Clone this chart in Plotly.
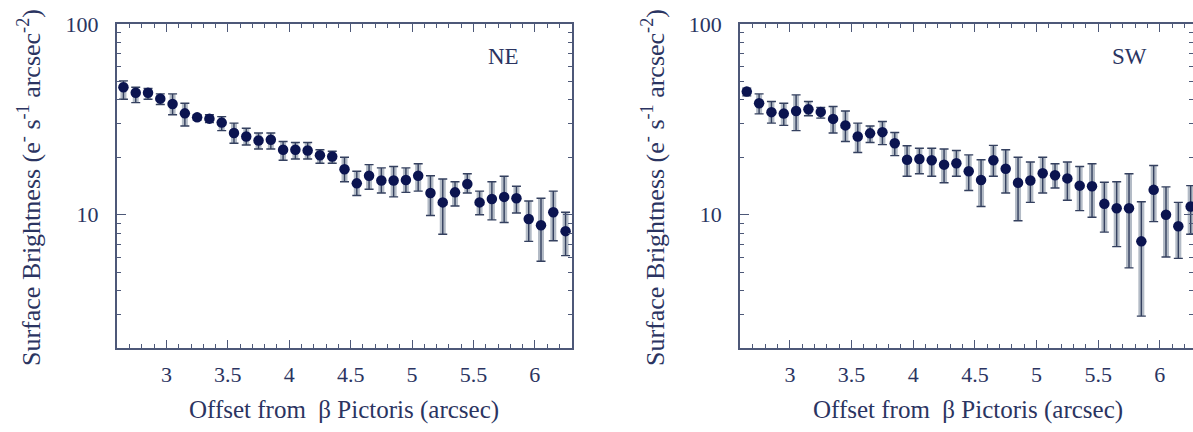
import plotly.graph_objects as go

# ---- data ----
offset = [2.65, 2.75, 2.85, 2.95, 3.05, 3.15, 3.25, 3.35, 3.45, 3.55, 3.65, 3.75, 3.85,
          3.95, 4.05, 4.15, 4.25, 4.35, 4.45, 4.55, 4.65, 4.75, 4.85, 4.95, 5.05, 5.15,
          5.25, 5.35, 5.45, 5.55, 5.65, 5.75, 5.85, 5.95, 6.05, 6.15, 6.25]

ne_val = [46.6, 43.6, 43.6, 40.6, 38.1, 34.0, 32.4, 31.9, 30.4, 26.8, 25.7, 24.5, 24.7,
          21.9, 21.9, 21.7, 20.5, 20.2, 17.3, 14.6, 16.0, 15.1, 15.1, 15.2, 16.0, 13.0,
          11.6, 13.1, 14.5, 11.6, 12.1, 12.4, 12.2, 9.5, 8.8, 10.3, 8.2]
ne_hi = [50.3, 46.6, 45.9, 43.0, 43.0, 38.4, 33.4, 33.4, 32.7, 30.2, 28.4, 26.8, 26.8,
         24.2, 23.9, 23.9, 21.9, 21.5, 20.0, 16.9, 18.3, 17.6, 17.9, 17.6, 18.5, 16.0,
         15.4, 14.9, 16.4, 13.3, 14.9, 15.9, 14.1, 11.8, 12.2, 13.3, 10.3]
ne_lo = [40.3, 38.7, 40.3, 37.8, 33.4, 29.2, 31.4, 30.4, 27.6, 23.7, 23.2, 22.1, 22.1,
         19.3, 19.6, 19.6, 18.6, 18.6, 14.9, 12.6, 13.6, 13.0, 12.4, 13.1, 13.3, 9.9,
         7.9, 11.1, 13.0, 10.0, 9.4, 9.1, 10.2, 7.25, 5.7, 7.3, 6.1]

sw_val = [44.2, 38.4, 34.5, 33.9, 35.0, 35.7, 34.6, 31.8, 29.4, 25.7, 26.7, 27.1, 23.7,
          19.4, 19.6, 19.3, 18.3, 18.6, 16.9, 15.2, 19.3, 17.4, 14.7, 15.1, 16.5, 16.1,
          15.5, 14.2, 14.1, 11.4, 10.8, 10.8, 7.25, 13.5, 10.0, 8.7, 11.05]
sw_hi = [46.1, 43.0, 39.2, 38.4, 42.5, 39.2, 36.5, 36.9, 35.0, 30.2, 29.2, 30.8, 27.0,
         23.0, 22.3, 22.3, 22.1, 21.7, 20.6, 19.4, 23.1, 21.9, 20.0, 18.9, 20.0, 18.5,
         18.9, 17.9, 18.5, 14.8, 14.9, 16.4, 11.7, 18.1, 14.0, 11.6, 14.2]
sw_lo = [42.0, 33.8, 30.2, 29.4, 27.6, 33.0, 32.1, 26.8, 24.2, 21.2, 23.9, 23.3, 20.4,
         15.9, 16.4, 15.9, 14.7, 15.9, 13.4, 11.05, 15.9, 13.0, 9.3, 11.6, 13.0, 13.8,
         11.9, 10.5, 9.7, 8.1, 6.8, 5.26, 2.94, 9.2, 6.0, 5.9, 7.9]

panels = ["NE", "SW"]
x_ticks = [3, 3.5, 4, 4.5, 5, 5.5, 6]
x_ticktext = ["3", "3.5", "4", "4.5", "5", "5.5", "6"]
y_ticks = [10, 100]
y_ticktext = ["10", "100"]
y_minor = [2, 3, 4, 5, 6, 7, 8, 9, 20, 30, 40, 50, 60, 70, 80, 90]

# ---- style ----
W, H = 1193, 432
FONT = "Liberation Serif, Times New Roman, serif"
TXT = "#2b3461"
AX = "#4d5878"
MARK = "#0b1450"
DARK_BAR = "#34405f"
GRAY_BAR = "#b3bbc6"

fig = go.Figure()

series = [(ne_val, ne_hi, ne_lo), (sw_val, sw_hi, sw_lo)]
for i, (val, hi, lo) in enumerate(series):
    xa = "x" if i == 0 else "x2"
    ya = "y" if i == 0 else "y2"
    up = [h - v for h, v in zip(hi, val)]
    dn = [v - l for v, l in zip(val, lo)]
    fig.add_trace(go.Scatter(
        x=offset, y=val, mode="markers", xaxis=xa, yaxis=ya,
        marker=dict(color="rgba(0,0,0,0)", size=1),
        error_y=dict(type="data", symmetric=False, array=up, arrayminus=dn,
                     color=GRAY_BAR, thickness=6, width=0),
        showlegend=False, hoverinfo="skip"))
    fig.add_trace(go.Scatter(
        x=offset, y=val, mode="markers", xaxis=xa, yaxis=ya,
        marker=dict(color=MARK, size=10.5, line=dict(width=0)),
        error_y=dict(type="data", symmetric=False, array=up, arrayminus=dn,
                     color=DARK_BAR, thickness=1.4, width=4.5),
        showlegend=False, name=panels[i]))

def px_x(p):
    return p / W

def px_y(p):
    return (H - p) / H

x_common = dict(
    tickmode="array", tickvals=x_ticks, ticktext=x_ticktext,
    ticks="inside", ticklen=8, tickwidth=1.3, tickcolor=AX,
    minor=dict(dtick=0.1, tick0=0, ticks="inside", ticklen=4, tickwidth=1.1, tickcolor=AX),
    showline=True, linecolor=AX, linewidth=1.6, mirror="ticks",
    showgrid=False, zeroline=False, automargin=False,
    tickfont=dict(family=FONT, size=22, color=TXT),
    ticklabelstandoff=6,
)
y_common = dict(
    type="log", range=[0.30103, 2.0],
    tickmode="array", tickvals=y_ticks, ticktext=y_ticktext,
    ticks="inside", ticklen=9, tickwidth=1.3, tickcolor=AX,
    minor=dict(tickvals=y_minor, ticks="inside", ticklen=4, tickwidth=1.1, tickcolor=AX),
    showline=True, linecolor=AX, linewidth=1.6, mirror="ticks",
    showgrid=False, zeroline=False, automargin=False,
    tickfont=dict(family=FONT, size=22, color=TXT),
    ticklabelstandoff=12,
)

ydom = [px_y(348), px_y(24)]
fig.update_layout(
    width=W, height=H,
    margin=dict(l=0, r=0, t=0, b=0, autoexpand=False),
    paper_bgcolor="white", plot_bgcolor="white",
    xaxis=dict(domain=[px_x(116.7), px_x(571.7)], range=[2.595, 6.30], anchor="y", **x_common),
    yaxis=dict(domain=ydom, anchor="x", **y_common),
    xaxis2=dict(domain=[px_x(740), 1.0], range=[2.595, 6.269], anchor="y2", **x_common),
    yaxis2=dict(domain=ydom, anchor="x2", **y_common),
)

ytitle = "Surface Brightness (e<sup>-</sup> s<sup>-1</sup> arcsec<sup>-2</sup>)"
xtitle = "Offset from  \u03b2 Pictoris (arcsec)"
annots = [
    dict(text="NE", x=px_x(503), y=px_y(57), size=23),
    dict(text="SW", x=px_x(1129), y=px_y(57), size=23),
    dict(text=xtitle, x=px_x(344), y=px_y(410), size=25),
    dict(text=xtitle, x=px_x(968), y=px_y(410), size=25),
    dict(text=ytitle, x=px_x(29), y=px_y(188), textangle=-90, size=26),
    dict(text=ytitle, x=px_x(653), y=px_y(188), textangle=-90, size=26),
]
for a in annots:
    size = a.pop("size")
    fig.add_annotation(xref="paper", yref="paper", showarrow=False,
                       xanchor="center", yanchor="middle",
                       font=dict(family=FONT, size=size, color=TXT), **a)

fig.write_html("out.html",
               config={"displayModeBar": False},
               post_script="document.body.style.margin='0';document.body.style.overflow='hidden';")
